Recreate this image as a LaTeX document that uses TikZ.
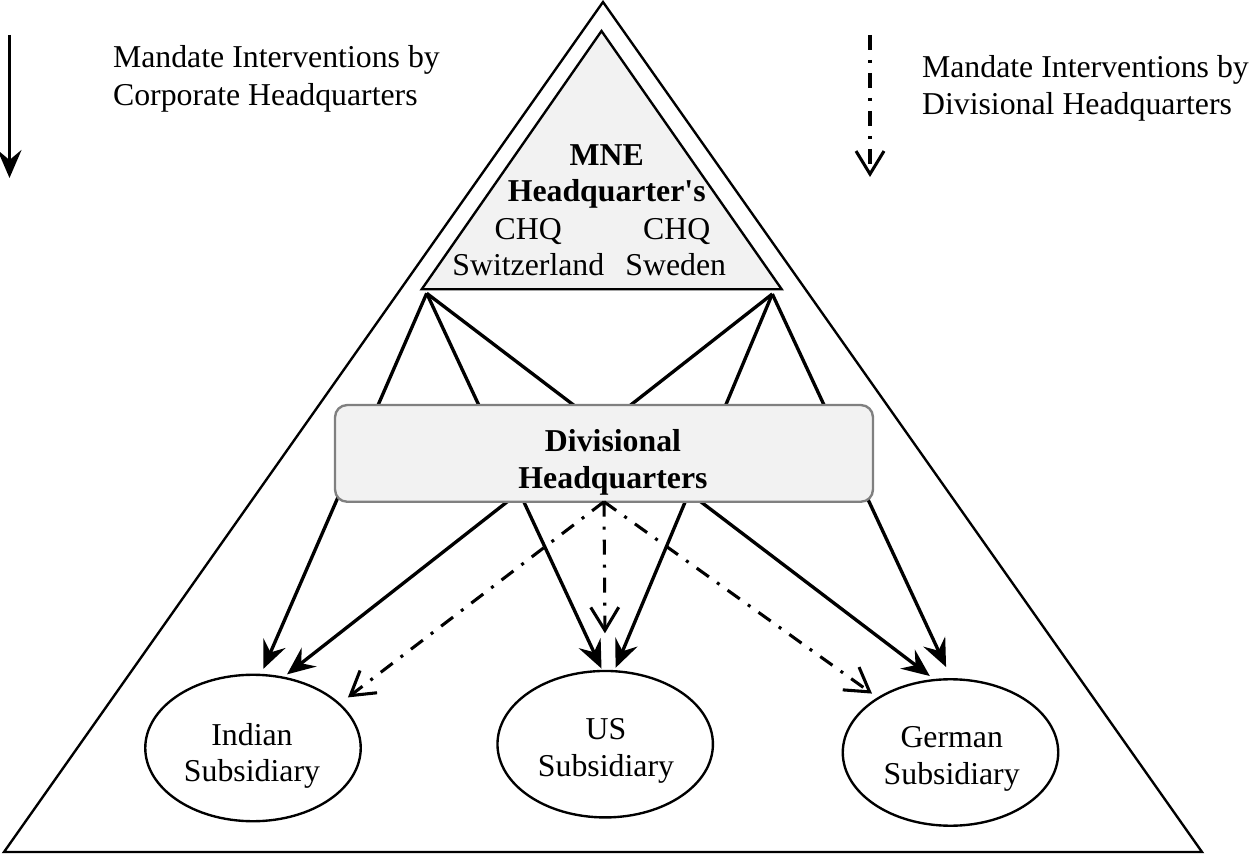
\documentclass[tikz,border=0pt]{standalone}
\usepackage{fontspec}
\setmainfont{Liberation Serif}
\usetikzlibrary{arrows.meta,shapes.geometric}
\definecolor{boxfill}{HTML}{F2F2F2}
\definecolor{boxline}{HTML}{808080}
\begin{document}
\begin{tikzpicture}[x=0.02cm,y=-0.02cm,
  tri/.style={draw=black,line width=1.35pt,line join=miter},
  solidarrow/.style={line width=1.9pt,-{Stealth[length=0.56cm,width=0.48cm,inset=0.2cm]}},
  dasharrow/.style={line width=1.75pt,dash pattern=on 0.3cm off 0.2cm on 0.06cm off 0.2cm,-{Straight Barb[length=0.46cm,width=0.56cm]}},
  txt/.style={font=\fontsize{18.1}{20.8}\selectfont,inner sep=0pt,anchor=base},
  btxt/.style={txt,font=\fontsize{18.1}{20.8}\selectfont\bfseries},
  subell/.style={draw=black,line width=1.35pt,ellipse,minimum width=4.31cm,minimum height=2.93cm,inner sep=0pt,outer sep=0pt},
  dhqbox/.style={draw=boxline,fill=boxfill,line width=1.35pt,rounded corners=0.24cm,minimum width=10.76cm,minimum height=1.934cm,inner sep=0pt,outer sep=0pt}
]
\useasboundingbox (0,0) rectangle (1251,854);

% outer triangle
\coordinate (apex) at (603,2);
\coordinate (br) at (1202,852);
\coordinate (bl) at (4,852);
\draw[tri] (apex) -- (br) -- (bl) -- cycle;

% inner triangle (MNE headquarters)
\coordinate (iapex) at (601.5,31);
\coordinate (ibr) at (781.7,289.3);
\coordinate (ibl) at (421.7,289.3);
\draw[tri,fill=boxfill] (iapex) -- (ibr) -- (ibl) -- cycle;
\node[btxt] (mne1) at (606.7,165.7) {MNE};
\node[btxt] (mne2) at (606.7,201.7) {Headquarter\textquotesingle s};
\node[txt] (chq1a) at (528.3,240) {CHQ};
\node[txt] (chq1b) at (528.3,275.3) {Switzerland};
\node[txt] (chq2a) at (676.7,240) {CHQ};
\node[txt] (chq2b) at (675.8,275.3) {Sweden};

\coordinate (chqL) at (426.7,293.3);
\coordinate (chqR) at (772.3,294);

% subsidiaries
\node[subell] (ind) at (253,748) {};
\node[subell] (us) at (605.2,744.2) {};
\node[subell] (ger) at (950.5,752.5) {};
\node[txt] (ind1) at (252,745) {Indian};
\node[txt] (ind2) at (252,781.7) {Subsidiary};
\node[txt] (us1) at (606,739.3) {US};
\node[txt] (us2) at (606,776) {Subsidiary};
\node[txt] (ger1) at (951.7,747.7) {German};
\node[txt] (ger2) at (951.7,784.3) {Subsidiary};

% corporate HQ interventions
\draw[solidarrow,shorten >=0.132cm] (chqL) -- (ind.84.5);
\draw[solidarrow,shorten >=0.054cm] (chqL) -- (us.92.6);
\draw[solidarrow,shorten >=0.132cm] (chqL) -- (ger.102.3);
\draw[solidarrow,shorten >=0.106cm] (chqR) -- (ind.67);
\draw[solidarrow,shorten >=0.074cm] (chqR) -- (us.83.8);
\draw[solidarrow,shorten >=0.27cm] (chqR) -- (ger.89);

% divisional HQ
\node[dhqbox] (dhq) at (604,453.4) {};
\node[btxt] (dhq1) at (613,451.7) {Divisional};
\node[btxt] (dhq2) at (613,488.3) {Headquarters};

% divisional interventions
\draw[dasharrow,shorten >=0.22cm] (dhq.south) -- (ind.27.5);
\draw[dasharrow,shorten >=0.754cm] (dhq.south) -- (us.90);
\draw[dasharrow,shorten >=0.156cm] (dhq.south) -- (ger.143);

% legend
\coordinate (la1) at (9.5,35);
\coordinate (la2) at (9.5,178);
\draw[solidarrow] (la1) -- (la2);
\node[txt,anchor=base west] (lg1a) at (112.7,67.5) {Mandate Interventions by};
\node[txt,anchor=base west] (lg1b) at (112.7,105.5) {Corporate Headquarters};
\coordinate (lb1) at (870,35);
\coordinate (lb2) at (870,177);
\draw[dasharrow] (lb1) -- (lb2);
\node[txt,anchor=base west] (lg2a) at (921.7,77.5) {Mandate Interventions by};
\node[txt,anchor=base west] (lg2b) at (921.7,114.3) {Divisional Headquarters};
\end{tikzpicture}
\end{document}
